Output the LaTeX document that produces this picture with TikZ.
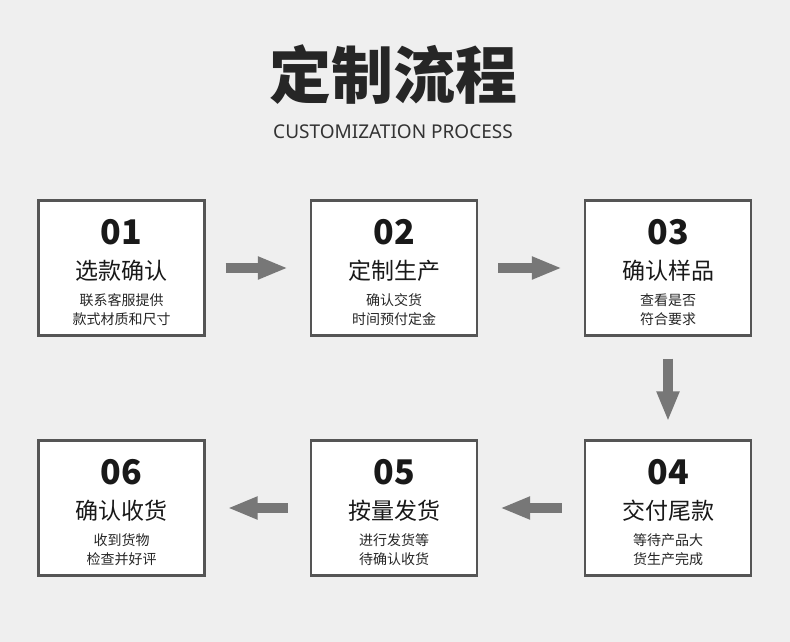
\documentclass[tikz,border=0pt]{standalone}
\usepackage{fontspec}
\setmainfont{Noto Sans}
\newfontfamily\cjk{Noto Sans CJK SC}
\usetikzlibrary{arrows.meta}
\definecolor{bg}{HTML}{EFEFEF}
\definecolor{bd}{HTML}{555555}
\definecolor{ar}{HTML}{777777}
\begin{document}
\begin{tikzpicture}[x=1pt,y=-1pt,
  box/.style={draw=bd,line width=2.2pt,fill=white,minimum width=166pt,minimum height=135pt,inner sep=0pt},
  num/.style={font=\cjk\bfseries\fontsize{34}{34}\selectfont,text=black!90},
  nm/.style={font=\cjk\fontsize{23}{23}\selectfont,text=black!90},
  sm/.style={font=\cjk\fontsize{14}{19}\selectfont,text=black!85,align=center},
  arr/.style={draw=ar,line width=10pt,-{Triangle[length=30pt,width=21pt]}}]
\fill[bg] (0,0) rectangle (790,642);
\node[font=\cjk\bfseries\fontsize{62}{62}\selectfont,text=black!85] (title) at (393,75) {定制流程};
\node[font=\fontsize{19}{19}\selectfont,text=black!80] (sub) at (393,132) {CUSTOMIZATION PROCESS};
\newcommand\stepbox[6]{%
  \node[box] (#1) at (#2) {};
  \node[num] (#1n) at ([yshift=36pt]#1.center) {#3};
  \node[nm] (#1t) at ([yshift=-3pt]#1.center) {#4};
  \node[sm] (#1s) at ([yshift=-42pt]#1.center) {#5\\#6};}
\stepbox{a}{121.5,268}{01}{选款确认}{联系客服提供}{款式材质和尺寸}
\stepbox{b}{394,268}{02}{定制生产}{确认交货}{时间预付定金}
\stepbox{c}{668,268}{03}{确认样品}{查看是否}{符合要求}
\stepbox{d}{668,508}{04}{交付尾款}{等待产品大}{货生产完成}
\stepbox{e}{394,508}{05}{按量发货}{进行发货等}{待确认收货}
\stepbox{f}{121.5,508}{06}{确认收货}{收到货物}{检查并好评}
\draw[arr,shorten <=20pt,shorten >=22pt] (a.east) -- (b.west);
\draw[arr,shorten <=20pt,shorten >=22pt] (b.east) -- (c.west);
\draw[arr,shorten <=22pt,shorten >=18pt] (c.south) -- (d.north);
\draw[arr,shorten <=22pt,shorten >=22pt] (d.west) -- (e.east);
\draw[arr,shorten <=22pt,shorten >=22pt] (e.west) -- (f.east);
\end{tikzpicture}
\end{document}
